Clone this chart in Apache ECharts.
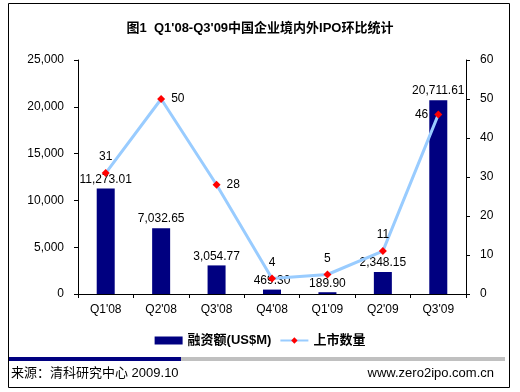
<!DOCTYPE html>
<html><head><meta charset="utf-8">
<script src="https://cdn.jsdelivr.net/npm/echarts@6/dist/echarts.min.js"></script>
<style>html,body{margin:0;padding:0;background:#fff}#c{width:520px;height:392px}</style>
</head><body><div id="c"></div>
<script>
const categories = ["Q1'08","Q2'08","Q3'08","Q4'08","Q1'09","Q2'09","Q3'09"];
const financing = [11273.01, 7032.65, 3054.77, 469.30, 189.90, 2348.15, 20711.61];
const ipoCount = [31, 50, 28, 4, 5, 11, 46];
const lineLabelPos = ['top','right','right','top','top','top','left'];
const titleText = "图1  Q1'08-Q3'09中国企业境内外IPO环比统计";
const barName = '融资额(US$M)';
const lineName = '上市数量';
const sourceText = '来源：清科研究中心 2009.10';
const siteText = 'www.zero2ipo.com.cn';

const font = '"Liberation Sans", Arial, "Noto Sans CJK SC", sans-serif';
const fmt = v => v.toLocaleString('en-US',{minimumFractionDigits:2,maximumFractionDigits:2});
const chart = echarts.init(document.getElementById('c'));
chart.setOption({
  animation:false,
  textStyle:{fontFamily:font},
  title:{text:titleText,left:'center',top:17,textStyle:{fontSize:13,fontWeight:'bold',color:'#000',fontFamily:font}},
  grid:{left:78,right:54,top:60,bottom:98},
  legend:{bottom:40,left:'center',itemGap:8,itemWidth:28,itemHeight:8,
    textStyle:{fontSize:13,fontWeight:'bold',color:'#000',fontFamily:font},
    data:[{name:barName,icon:'rect'},{name:lineName}]},
  xAxis:{type:'category',data:categories,
    axisLine:{lineStyle:{color:'#000'}},axisTick:{show:true,inside:false,length:4,lineStyle:{color:'#000'}},
    axisLabel:{color:'#000',fontSize:12,margin:10}},
  yAxis:[
    {type:'value',min:0,max:25000,interval:5000,splitLine:{show:false},
     axisLine:{show:true,lineStyle:{color:'#000'}},axisTick:{show:true,length:4,lineStyle:{color:'#000'}},
     axisLabel:{color:'#000',fontSize:12,margin:14,formatter:v=>v.toLocaleString('en-US')}},
    {type:'value',min:0,max:60,interval:10,splitLine:{show:false},position:'right',
     axisLine:{show:true,lineStyle:{color:'#000'}},axisTick:{show:true,length:4,lineStyle:{color:'#000'}},
     axisLabel:{color:'#000',fontSize:12,margin:14}}
  ],
  series:[
    {name:barName,type:'bar',data:financing,barWidth:18,itemStyle:{color:'#000080'},
     label:{show:true,position:'top',distance:3,color:'#000',fontSize:12,formatter:p=>fmt(p.value)}},
    {name:lineName,type:'line',yAxisIndex:1,
     data:ipoCount.map((v,i)=>({value:v,label:{position:lineLabelPos[i]}})),
     lineStyle:{color:'#99CCFF',width:3},itemStyle:{color:'#FF0000'},
     symbol:'diamond',symbolSize:8,
     label:{show:true,color:'#000',fontSize:12,distance:6}}
  ],
  graphic:[
    {type:'rect',shape:{x:8.5,y:3.5,width:501,height:384},style:{fill:'none',stroke:'#000',lineWidth:1},silent:true,z:-1},
    {type:'rect',shape:{x:9,y:357,width:172,height:4},style:{fill:'#000080'}},
    {type:'rect',shape:{x:181,y:357,width:324,height:4},style:{fill:'#C0C0C0'}},
    {type:'text',left:11,top:367,style:{text:sourceText,fontSize:13,fill:'#000',fontFamily:font}},
    {type:'text',right:26,top:367,style:{text:siteText,fontSize:13,fill:'#000',fontFamily:font}}
  ]
});
</script></body></html>
